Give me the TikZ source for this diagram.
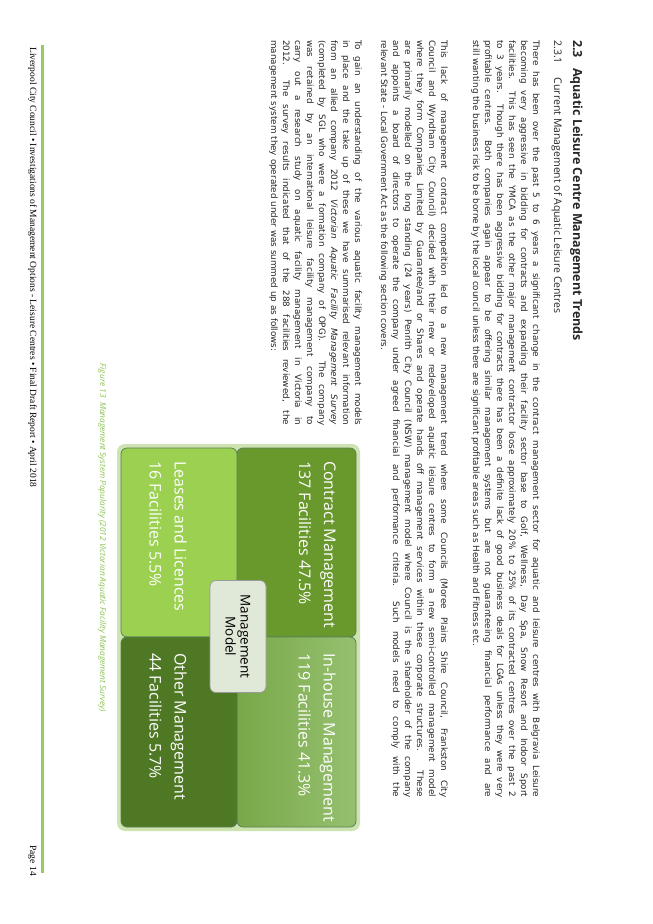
\documentclass[tikz,border=0pt]{standalone}
\usepackage{fontspec}
\setmainfont{Open Sans}
\newfontfamily\serifft{Liberation Serif}
\newfontfamily\bodyft{DejaVu Sans}
\begin{document}
\begin{tikzpicture}[x=1pt,y=1pt,
  ln/.style={anchor=base west,inner sep=0,font=\bodyft\fontsize{8.8}{11}\selectfont,text=black!85},
  quad/.style={draw=white!70!green!50!black,line width=0.8pt,rounded corners=6pt},
  qtxt/.style={anchor=north west,inner sep=0,align=left,text=white,font=\fontsize{16}{25}\selectfont}]
\path[use as bounding box,fill=white] (0,0) rectangle (653,-924);
\newcommand\jl[1]{\makebox[757pt][s]{#1}}
\newcommand\jm[1]{\makebox[385pt][s]{#1}}
\begin{scope}[cm={0,-1,1,0,(653,0)},transform shape]
% headings
\node[ln,font=\fontsize{12.5}{14}\selectfont\bfseries] (h1) at (40,-80) {2.3\hspace{10pt}Aquatic Leisure Centre Management Trends};
\node[ln,font=\fontsize{10.5}{12}\selectfont] (h2) at (40,-99) {2.3.1\hspace{14pt}Current Management of Aquatic Leisure Centres};
% paragraph 1
\node[ln] (p11) at (40,-120) {\jl{There has been over the past 5 to 6 years a significant change in the contract management sector for aquatic and leisure centres with Belgravia Leisure}};
\node[ln] (p12) at (40,-132) {\jl{becoming very aggressive in bidding for contracts and expanding their facility sector base to Golf, Wellness, Day Spa, Snow Resort and Indoor Sport}};
\node[ln] (p13) at (40,-144) {\jl{facilities.\ \ This has seen the YMCA as the other major management contractor loose approximately 20\% to 25\% of its contracted centres over the past 2}};
\node[ln] (p14) at (40,-156) {\jl{to 3 years.\ \ Though there has been aggressive bidding for contracts there has been a definite lack of good business deals for LGAs unless they were very}};
\node[ln] (p15) at (40,-168) {\jl{profitable centres.\ \ Both companies again appear to be offering similar management systems but are not guaranteeing financial performance and are}};
\node[ln] (p16) at (40,-180) {still wanting the business risk to be borne by the local council unless there are significant profitable areas such as Health and Fitness etc.};
% paragraph 2
\node[ln] (p21) at (40,-212) {\jl{This lack of management contract competition led to a new management trend where some Councils (Moree Plains Shire Council, Frankston City}};
\node[ln] (p22) at (40,-224) {\jl{Council and Wyndham City Council) decided with their new or redeveloped aquatic leisure centres to form a new semi-controlled management model}};
\node[ln] (p23) at (40,-236) {\jl{where they form Companies Limited by Guarantee/and or Shares and operate hands off management services within these corporate structures.\ \ \ These}};
\node[ln] (p24) at (40,-248) {\jl{are primarily modelled on the long standing (24 years) Penrith City Council (NSW) management model where Council is the shareholder of the company}};
\node[ln] (p25) at (40,-260) {\jl{and appoints a board of directors to operate the company under agreed financial and performance criteria.\ \ Such models need to comply with the}};
\node[ln] (p26) at (40,-272) {relevant State - Local Government Act as the following section covers.};
% paragraph 3
\node[ln] (p31) at (40,-298) {\jm{To gain an understanding of the various aquatic facility management models}};
\node[ln] (p32) at (40,-310) {\jm{in place and the take up of these we have summarised relevant information}};
\node[ln] (p33) at (40,-322) {\jm{from an allied company 2012 \emph{Victorian Aquatic Facility Management Survey}}};
\node[ln] (p34) at (40,-334) {\jm{(completed by SGL who were a formation company of OPG).\ \ \ The company}};
\node[ln] (p35) at (40,-346) {\jm{was retained by an international leisure facility management company to}};
\node[ln] (p36) at (40,-358) {\jm{carry out a research study on aquatic facility management in Victoria in}};
\node[ln] (p37) at (40,-370) {\jm{2012.\ \ The survey results indicated that of the 288 facilities reviewed, the}};
\node[ln] (p38) at (40,-382) {management system they operated under was summed up as follows:};
% figure
\fill[rounded corners=8pt,color={rgb,255:red,205;green,228;blue,176}] (444,-293) rectangle (831,-536);
\path[quad,fill={rgb,255:red,105;green,152;blue,45}] (448,-297) rectangle (637,-416);
\path[quad,left color={rgb,255:red,120;green,168;blue,72},right color={rgb,255:red,150;green,192;blue,112}] (637,-297) rectangle (827,-416);
\path[quad,fill={rgb,255:red,155;green,208;blue,80}] (448,-416) rectangle (637,-532);
\path[quad,fill={rgb,255:red,78;green,120;blue,36}] (637,-416) rectangle (827,-532);
\node[qtxt] (cm) at (461,-317) {Contract Management\\137 Facilities 47.5\%};
\node[qtxt] (ih) at (653,-317) {In-house Management\\119 Facilities 41.3\%};
\node[qtxt] (ll) at (461,-466) {Leases and Licences\\16 Facilities 5.5\%};
\node[qtxt] (om) at (653,-466) {Other Management\\44 Facilities 5.7\%};
\node[draw=black!40,line width=0.8pt,fill={rgb,255:red,224;green,232;blue,216},rounded corners=6pt,
  minimum width=112pt,minimum height=56pt,align=center,font=\fontsize{13.5}{15}\selectfont] (mm) at (636.5,-415) {Management\\Model};
% caption
\node[anchor=base,inner sep=0,text={rgb,255:red,140;green,195;blue,80},font=\fontsize{8.3}{10}\selectfont\itshape] (cap) at (538,-553) {Figure 13\ \ Management System Popularity (2012 Victorian Aquatic Facility Management Survey)};
% footer
\coordinate (fa) at (45,-611);
\coordinate (fb) at (873,-611);
\draw[line width=3pt,color={rgb,255:red,150;green,205;blue,90}] (fa) -- (fb);
\node[anchor=base west,inner sep=0,font=\serifft\fontsize{9.5}{11}\selectfont] (ft) at (47,-623) {Liverpool City Council \textbullet\ Investigations of Management Options - Leisure Centres \textbullet\ Final Draft Report \textbullet\ April 2018};
\node[anchor=base east,inner sep=0,font=\serifft\fontsize{9.5}{11}\selectfont] (pg) at (876,-623) {Page 14};
\end{scope}
\end{tikzpicture}
\end{document}
